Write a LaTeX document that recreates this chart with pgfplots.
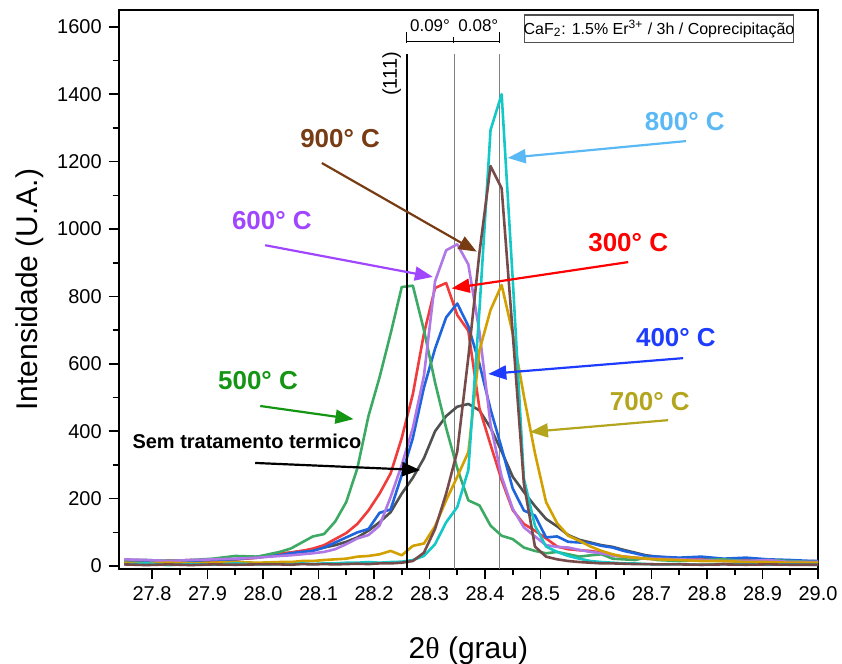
\documentclass[border=0pt]{standalone}
\usepackage{pgfplots}
\pgfplotsset{compat=1.18}
\usetikzlibrary{arrows.meta}
\usepackage{fontspec}
\setmainfont{Liberation Sans}
\newfontfamily\serifgr{Liberation Serif}

\definecolor{cgray}{RGB}{80,80,80}
\definecolor{cred}{RGB}{240,60,60}
\definecolor{cblue}{RGB}{30,100,220}
\definecolor{cgreen}{RGB}{60,170,100}
\definecolor{cpurple}{RGB}{175,120,230}
\definecolor{cgold}{RGB}{210,160,0}
\definecolor{cteal}{RGB}{20,200,200}
\definecolor{cbrown}{RGB}{120,75,75}
\definecolor{lbrown}{RGB}{120,60,20}
\definecolor{lteal}{RGB}{90,185,245}
\definecolor{lpurple}{RGB}{160,70,255}
\definecolor{lred}{RGB}{255,0,0}
\definecolor{lblue}{RGB}{30,60,255}
\definecolor{lgreen}{RGB}{20,150,20}
\definecolor{lgold}{RGB}{180,165,30}

\begin{document}
\begin{tikzpicture}
\useasboundingbox (-59.4pt,-47pt) rectangle (362pt,285pt);
\begin{axis}[
  scale only axis, width=350pt, height=280pt,
  xmin=27.74, xmax=29.0, ymin=-10, ymax=1650,
  xtick={27.8,27.9,28.0,28.1,28.2,28.3,28.4,28.5,28.6,28.7,28.8,28.9,29.0},
  ytick={0,200,400,600,800,1000,1200,1400,1600},
  minor x tick num=1, minor y tick num=1,
  tick align=outside, tick pos=left,
  xticklabel style={/pgf/number format/.cd,fixed,fixed zerofill,precision=1},
  yticklabel style={/pgf/number format/1000 sep={}},
  /pgf/number format/assume math mode=true,
  scaled ticks=false,
  tick label style={font=\fontsize{10}{12}\selectfont},
  axis line style={line width=1pt},
  major tick length=5pt, minor tick length=3pt,
  every tick/.style={black, line width=0.8pt},
  xlabel={2{\serifgr θ} (grau)},
  ylabel={Intensidade (U.A.)},
  label style={font=\fontsize{15}{18}\selectfont},
  ylabel style={at={(axis description cs:-0.127,0.5)}, anchor=center},
  xlabel style={at={(axis description cs:0.5,-0.145)}, anchor=center},
  every axis plot/.append style={line width=1.3pt, line join=round},
]
% guide lines
\draw[gray, line width=0.5pt] (axis cs:28.345,1520) -- (axis cs:28.345,-10);
\draw[gray, line width=0.5pt] (axis cs:28.427,1520) -- (axis cs:28.427,-10);

% Sem tratamento termico
\addplot[cgray] coordinates {
(27.75,15)(27.79,14)(27.83,16)(27.87,15)(27.91,18)(27.95,20)(27.99,25)(28.03,35)
(28.05,40)(28.07,45)(28.09,48)(28.11,55)(28.13,62)(28.15,72)(28.17,85)(28.19,105)
(28.21,130)(28.23,160)(28.25,215)(28.27,262)(28.29,320)(28.31,400)(28.33,445)(28.35,473)
(28.37,481)(28.39,462)(28.41,410)(28.43,340)(28.45,265)(28.47,220)(28.49,178)(28.51,140)
(28.53,118)(28.55,92)(28.57,78)(28.59,70)(28.61,62)(28.63,57)(28.65,48)(28.67,40)
(28.69,32)(28.71,28)(28.75,22)(28.79,20)(28.83,18)(28.87,20)(28.91,15)(28.95,15)(28.99,12)(29.01,12)};
% 300 C
\addplot[cred] coordinates {
(27.75,15)(27.79,12)(27.83,15)(27.87,18)(27.91,15)(27.95,20)(27.99,25)(28.03,38)
(28.05,40)(28.07,45)(28.09,52)(28.11,62)(28.13,80)(28.15,98)(28.17,125)(28.19,165)
(28.21,215)(28.23,275)(28.25,380)(28.27,510)(28.29,690)(28.31,825)(28.33,840)(28.35,745)
(28.37,698)(28.39,468)(28.41,360)(28.43,255)(28.45,166)(28.47,125)(28.49,105)(28.51,82)
(28.53,58)(28.55,50)(28.57,47)(28.59,45)(28.61,40)(28.63,32)(28.65,28)(28.67,25)
(28.69,22)(28.71,20)(28.75,18)(28.79,20)(28.83,15)(28.87,18)(28.91,15)(28.95,12)(28.99,15)(29.01,12)};
% 400 C
\addplot[cblue] coordinates {
(27.75,12)(27.79,15)(27.83,12)(27.87,15)(27.91,18)(27.95,20)(27.99,28)(28.03,32)
(28.05,38)(28.07,42)(28.09,45)(28.11,55)(28.13,70)(28.15,85)(28.17,100)(28.19,110)
(28.21,158)(28.23,168)(28.25,270)(28.27,380)(28.29,530)(28.31,645)(28.33,738)(28.35,779)
(28.37,712)(28.39,600)(28.41,465)(28.43,350)(28.45,230)(28.47,165)(28.49,150)(28.51,85)
(28.53,88)(28.55,72)(28.57,70)(28.59,68)(28.61,60)(28.63,55)(28.65,45)(28.67,38)
(28.69,30)(28.71,28)(28.75,25)(28.79,28)(28.83,22)(28.87,25)(28.91,20)(28.95,18)(28.99,15)(29.01,15)};
% 500 C
\addplot[cgreen] coordinates {
(27.75,18)(27.79,18)(27.83,15)(27.87,18)(27.91,22)(27.95,30)(27.99,28)(28.03,42)
(28.05,52)(28.07,70)(28.09,88)(28.11,95)(28.13,132)(28.15,190)(28.17,290)(28.19,445)
(28.21,560)(28.23,690)(28.25,828)(28.27,832)(28.29,700)(28.31,545)(28.33,410)(28.35,290)
(28.37,195)(28.39,180)(28.41,120)(28.43,90)(28.45,80)(28.47,55)(28.49,45)(28.51,38)
(28.53,42)(28.55,35)(28.57,28)(28.59,32)(28.61,35)(28.63,22)(28.65,20)(28.67,18)
(28.69,25)(28.71,18)(28.75,15)(28.79,18)(28.83,20)(28.87,15)(28.91,18)(28.95,15)(28.99,12)(29.01,12)};
% 600 C
\addplot[cpurple] coordinates {
(27.75,20)(27.79,18)(27.83,15)(27.87,18)(27.91,20)(27.95,22)(27.99,25)(28.03,30)
(28.05,32)(28.07,35)(28.09,38)(28.11,42)(28.13,50)(28.15,65)(28.17,82)(28.19,92)
(28.21,120)(28.23,205)(28.25,300)(28.27,410)(28.29,565)(28.31,845)(28.33,937)(28.35,955)
(28.37,895)(28.39,695)(28.41,420)(28.43,265)(28.45,170)(28.47,115)(28.49,88)(28.51,62)
(28.53,57)(28.55,55)(28.57,48)(28.59,42)(28.61,38)(28.63,32)(28.65,28)(28.67,25)
(28.69,22)(28.71,22)(28.75,20)(28.79,18)(28.83,15)(28.87,15)(28.91,18)(28.95,12)(28.99,12)(29.01,12)};
% 700 C
\addplot[cgold] coordinates {
(27.75,10)(27.79,8)(27.83,10)(27.87,8)(27.91,10)(27.95,12)(27.99,10)(28.03,12)
(28.05,12)(28.07,15)(28.09,15)(28.11,18)(28.13,20)(28.15,22)(28.17,28)(28.19,30)
(28.21,35)(28.23,45)(28.25,32)(28.27,60)(28.29,67)(28.31,118)(28.33,195)(28.35,265)
(28.37,338)(28.39,640)(28.41,760)(28.43,834)(28.45,690)(28.47,505)(28.49,335)(28.51,190)
(28.53,127)(28.55,90)(28.57,75)(28.59,58)(28.61,45)(28.63,35)(28.65,28)(28.67,25)
(28.69,22)(28.71,20)(28.75,18)(28.79,15)(28.83,15)(28.87,12)(28.91,12)(28.95,10)(28.99,10)(29.01,10)};
% 800 C
\addplot[cteal] coordinates {
(27.75,5)(27.79,8)(27.83,3)(27.87,6)(27.91,4)(27.95,8)(27.99,5)(28.03,6)
(28.05,5)(28.07,8)(28.09,6)(28.11,8)(28.13,8)(28.15,10)(28.17,10)(28.19,12)
(28.21,10)(28.23,12)(28.25,13)(28.27,18)(28.29,30)(28.31,65)(28.33,130)(28.35,175)
(28.37,285)(28.39,760)(28.41,1294)(28.43,1400)(28.45,850)(28.47,260)(28.49,120)(28.51,58)
(28.53,42)(28.55,30)(28.57,22)(28.59,15)(28.61,12)(28.63,10)(28.65,8)(28.67,8)
(28.69,6)(28.71,5)(28.75,6)(28.79,4)(28.83,6)(28.87,5)(28.91,4)(28.95,5)(28.99,4)(29.01,4)};
% 900 C
\addplot[cbrown] coordinates {
(27.75,5)(27.79,3)(27.83,5)(27.87,3)(27.91,5)(27.95,4)(27.99,5)(28.03,5)
(28.05,4)(28.07,6)(28.09,5)(28.11,6)(28.13,5)(28.15,6)(28.17,7)(28.19,6)
(28.21,8)(28.23,8)(28.25,10)(28.27,15)(28.29,40)(28.31,110)(28.33,215)(28.35,340)
(28.37,620)(28.39,930)(28.41,1187)(28.43,1121)(28.45,690)(28.47,245)(28.49,58)(28.51,28)
(28.53,20)(28.55,15)(28.57,12)(28.59,10)(28.61,8)(28.63,8)(28.65,7)(28.67,6)
(28.69,6)(28.71,5)(28.75,5)(28.79,4)(28.83,5)(28.87,4)(28.91,5)(28.95,4)(28.99,4)(29.01,4)};

% (111) line and bracket
\draw[black, line width=1.2pt] (axis cs:28.259,1520) -- (axis cs:28.259,-10);
\node[rotate=90, font=\fontsize{10}{12}\selectfont] at (axis cs:28.232,1460) {(111)};
\draw[line width=0.5pt] (axis cs:28.259,1556) -- (axis cs:28.427,1556);
\draw[line width=0.5pt] (axis cs:28.259,1585) -- (axis cs:28.259,1551);
\draw[line width=0.5pt] (axis cs:28.343,1570) -- (axis cs:28.343,1551);
\draw[line width=0.5pt] (axis cs:28.427,1585) -- (axis cs:28.427,1551);
\node[font=\fontsize{8.5}{10}\selectfont] at (axis cs:28.301,1603) {0.09°};
\node[font=\fontsize{8.5}{10}\selectfont] at (axis cs:28.388,1603) {0.08°};
\draw[cgray, line width=0.6pt] (axis cs:28.471,1554) rectangle (axis cs:28.956,1635);
\node[font=\fontsize{8}{10}\selectfont] at (axis cs:28.7135,1594.5) {CaF\textsubscript{2}: 1.5\% Er\textsuperscript{3+} / 3h / Coprecipitação};

% annotations
\tikzset{annarrow/.style={line width=1.1pt, -{Triangle[length=9pt,width=7pt]}}}
\node[lbrown, font=\fontsize{13}{15}\selectfont\bfseries] at (axis cs:28.139,1270) {900° C};
\draw[lbrown, annarrow] (axis cs:28.106,1196) -- (axis cs:28.385,933);
\node[lteal, font=\fontsize{13}{15}\selectfont\bfseries] at (axis cs:28.76,1320) {800° C};
\draw[lteal, annarrow] (axis cs:28.762,1261) -- (axis cs:28.441,1211);
\node[lpurple, font=\fontsize{13}{15}\selectfont\bfseries] at (axis cs:28.016,1024) {600° C};
\draw[lpurple, annarrow] (axis cs:28.004,952) -- (axis cs:28.306,858);
\node[lred, font=\fontsize{13}{15}\selectfont\bfseries] at (axis cs:28.658,961) {300° C};
\draw[lred, annarrow] (axis cs:28.658,902) -- (axis cs:28.34,824);
\node[lblue, font=\fontsize{13}{15}\selectfont\bfseries] at (axis cs:28.744,679) {400° C};
\draw[lblue, annarrow] (axis cs:28.757,617) -- (axis cs:28.406,570);
\node[lgreen, font=\fontsize{13}{15}\selectfont\bfseries] at (axis cs:27.991,549) {500° C};
\draw[lgreen, annarrow] (axis cs:27.995,475) -- (axis cs:28.163,436);
\node[lgold, font=\fontsize{13}{15}\selectfont\bfseries] at (axis cs:28.697,487) {700° C};
\draw[lgold, annarrow] (axis cs:28.73,433) -- (axis cs:28.481,398);
\node[black, font=\fontsize{10}{12}\selectfont\bfseries] at (axis cs:27.971,371) {Sem tratamento termico};
\draw[black, annarrow] (axis cs:27.986,306) -- (axis cs:28.283,285);
\end{axis}
\end{tikzpicture}
\end{document}
